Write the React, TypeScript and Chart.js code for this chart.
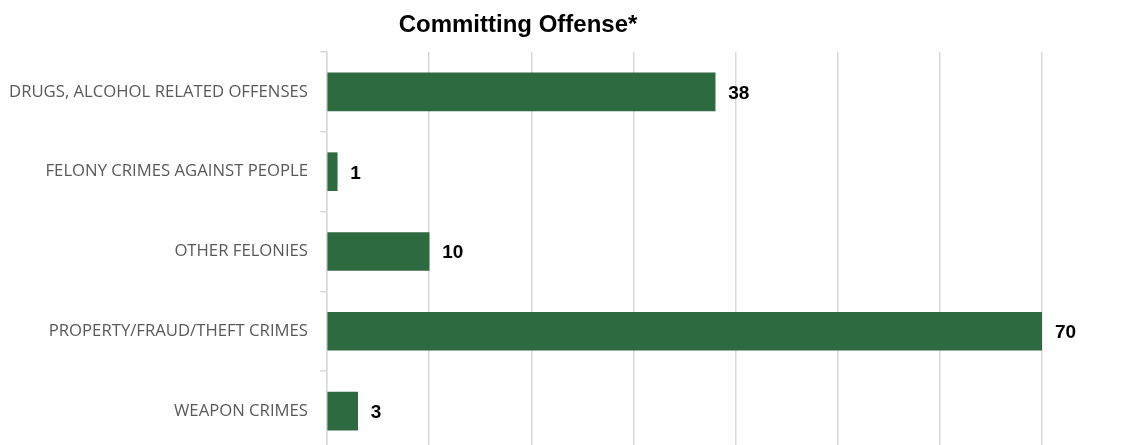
import React, { useEffect, useRef } from "react";
import { Chart, registerables } from "chart.js";

Chart.register(...registerables);

const categories = [
  "DRUGS, ALCOHOL RELATED OFFENSES",
  "FELONY CRIMES AGAINST PEOPLE",
  "OTHER FELONIES",
  "PROPERTY/FRAUD/THEFT CRIMES",
  "WEAPON CRIMES",
];
const counts = [38, 1, 10, 70, 3];
const chartTitle = "Committing Offense*";

export default function App() {
  const ref = useRef<HTMLCanvasElement>(null);

  useEffect(() => {
    document.body.style.margin = "0";
    const canvas = ref.current!;
    const labelPlugin = {
      id: "valueLabels",
      afterDatasetsDraw(chart: any) {
        const ctx = chart.ctx;
        const meta = chart.getDatasetMeta(0);
        ctx.save();
        ctx.fillStyle = "#000000";
        ctx.font = "bold 19px 'Liberation Sans', Arial, sans-serif";
        ctx.textAlign = "left";
        ctx.textBaseline = "alphabetic";
        meta.data.forEach((el: any, i: number) => {
          ctx.fillText(String(counts[i]), el.x + 13, el.y + 7);
        });
        ctx.restore();
      },
      afterDraw(chart: any) {
        const ctx = chart.ctx;
        ctx.save();
        ctx.fillStyle = "#000000";
        ctx.font = "bold 24px 'Liberation Sans', Arial, sans-serif";
        ctx.textAlign = "center";
        ctx.textBaseline = "alphabetic";
        ctx.fillText(chartTitle, 518, 32);
        ctx.restore();
      },
    };
    const chart = new Chart(canvas, {
      type: "bar",
      data: {
        labels: categories,
        datasets: [
          {
            data: counts,
            backgroundColor: "#2E6A40",
            borderWidth: 0,
            barThickness: 38,
          },
        ],
      },
      options: {
        indexAxis: "y",
        animation: false,
        responsive: false,
        maintainAspectRatio: false,
        layout: { padding: { top: 52, right: 91, left: 0, bottom: 0 } },
        plugins: {
          legend: { display: false },
          title: { display: false },
          tooltip: { enabled: false },
        },
        scales: {
          x: {
            min: 0,
            max: 70,
            ticks: { display: false, stepSize: 10 },
            grid: { color: "#d9d9d9", lineWidth: 1.5, drawTicks: false },
            border: { display: false },
            afterFit(scale: any) {
              scale.height = 0;
            },
          },
          y: {
            ticks: {
              color: "#595959",
              padding: 12,
              font: { family: "'Open Sans', sans-serif", size: 16.7 },
            },
            grid: {
              offset: true,
              drawOnChartArea: false,
              color: "#d9d9d9",
              lineWidth: 1.5,
              tickLength: 7,
            },
            border: { display: true, color: "#d9d9d9", width: 1.5 },
            afterFit(scale: any) {
              scale.width = 327;
            },
          },
        },
      },
      plugins: [labelPlugin],
    });
    return () => chart.destroy();
  }, []);

  return (
    <div style={{ width: 1133, height: 445, overflow: "hidden" }}>
      <canvas ref={ref} width={1133} height={473} style={{ display: "block" }} />
    </div>
  );
}
